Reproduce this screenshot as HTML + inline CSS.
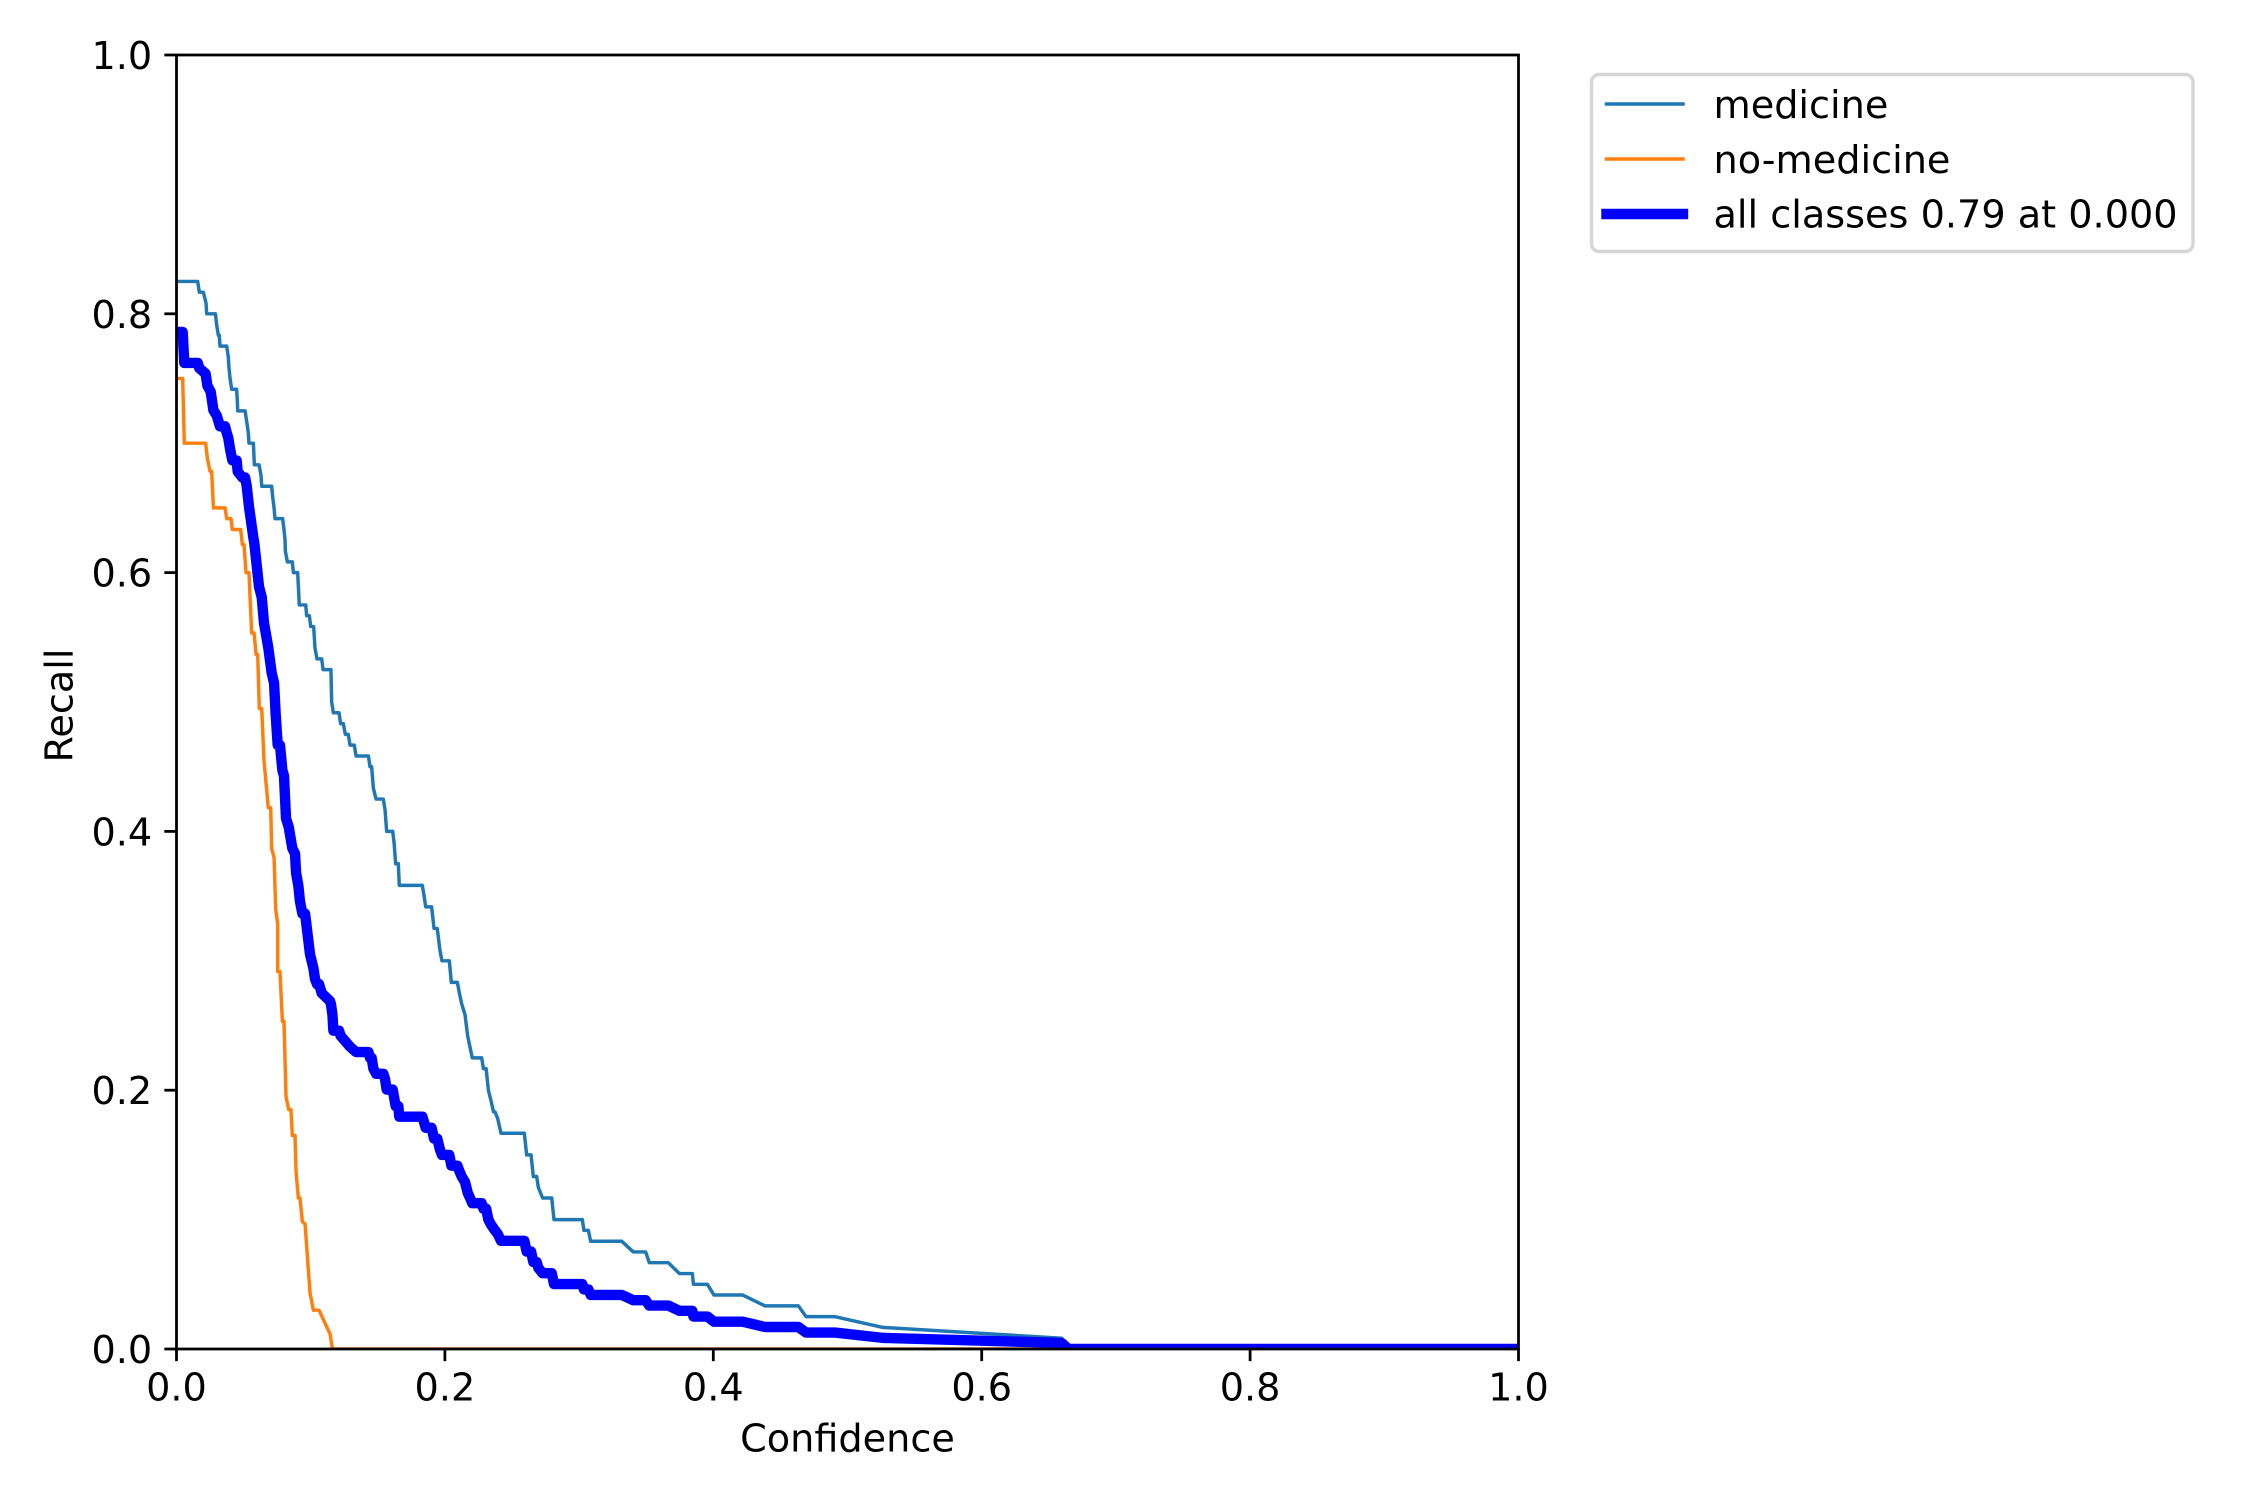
<!DOCTYPE html>
<html>
<head>
<meta charset="utf-8">
<title>Recall-Confidence Curve</title>
<style>
  html, body { margin: 0; padding: 0; background: #fff; }
  svg { display: block; }
  text { font-family: "DejaVu Sans", "Liberation Sans", sans-serif; font-size: 38.2px; fill: #000; }
</style>
</head>
<body>
<svg id="chart" xmlns="http://www.w3.org/2000/svg" width="2250" height="1500" viewBox="0 0 2250 1500">
  <rect x="0" y="0" width="2250" height="1500" fill="#ffffff"/>
  <defs>
    <clipPath id="plot-clip"><rect x="176.5" y="55" width="1342" height="1294"/></clipPath>
  </defs>
  <g id="series-layer" clip-path="url(#plot-clip)"></g>
  <rect x="176.5" y="55" width="1342" height="1294" fill="none" stroke="#000" stroke-width="2.78"/>
  <g id="tick-layer"></g>
  <text x="847.5" y="1451.5" text-anchor="middle">Confidence</text>
  <text transform="translate(72.3,705.5) rotate(-90)" text-anchor="middle">Recall</text>

  <g>
    <rect x="1591.5" y="74.5" width="601.5" height="177" rx="7.6" ry="7.6" fill="#ffffff" stroke="#d6d6d6" stroke-width="3.47"/>
    <g>
      <line x1="1606.5" y1="104" x2="1683" y2="104" stroke="#1f77b4" stroke-width="3.47" stroke-linecap="square"/>
      <text x="1713.5" y="118">medicine</text>
    </g>
    <g>
      <line x1="1606.5" y1="159" x2="1683" y2="159" stroke="#ff7f0e" stroke-width="3.47" stroke-linecap="square"/>
      <text x="1713.5" y="172.8">no-medicine</text>
    </g>
    <g>
      <line x1="1606.5" y1="214" x2="1683" y2="214" stroke="#0000ff" stroke-width="10.4" stroke-linecap="square"/>
      <text x="1713.5" y="227.7">all classes 0.79 at 0.000</text>
    </g>
  </g>
</svg>
<script>
var xTickLabels = ["0.0", "0.2", "0.4", "0.6", "0.8", "1.0"];
var yTickLabels = ["0.0", "0.2", "0.4", "0.6", "0.8", "1.0"];

var medicineConf = [0,.0158,.017,.02,.022,.0225,.029,.0299,.0312,.0319,.0324,.0374,.0386,.0391,.0399,.0411,.0448,.0453,.0456,.0511,.0523,.0535,.054,.0573,.058,.0615,.063,.0635,.0709,.0717,.0727,.0734,.0791,.0801,.0809,.0811,.0826,.0863,.0871,.0903,.0915,.0963,.097,.099,.1,.1022,.1032,.1047,.1082,.1092,.1151,.1156,.1169,.1211,.1223,.1243,.1258,.128,.1293,.1325,.1338,.143,.1442,.1454,.1467,.1487,.1541,.1554,.1566,.1611,.1621,.1633,.1653,.166,.1832,.1845,.1857,.1901,.1919,.1943,.1963,.1978,.2033,.2048,.2093,.2108,.2125,.215,.217,.2187,.2204,.2274,.2287,.2307,.2324,.2344,.2362,.2373,.2393,.2418,.2592,.2609,.2642,.2659,.2684,.2696,.2728,.2796,.2813,.3024,.3036,.3069,.3086,.3317,.3404,.3496,.3523,.3665,.3747,.3844,.3852,.3956,.4005,.4219,.4385,.4634,.4691,.4907,.5263,.6596,.6646,1];
var medicineRecall = [.825,.825,.8167,.8167,.8083,.8,.8,.7917,.7833,.7833,.775,.775,.7667,.7583,.75,.7417,.7417,.7333,.725,.725,.7167,.7083,.7,.7,.6833,.6833,.675,.6667,.6667,.6583,.65,.6417,.6417,.6333,.625,.6167,.6083,.6083,.6,.6,.575,.575,.5667,.5667,.5583,.5583,.5417,.5333,.5333,.525,.525,.5,.4917,.4917,.4833,.4833,.475,.475,.4667,.4667,.4583,.4583,.45,.45,.4333,.425,.425,.4167,.4,.4,.3917,.375,.375,.3583,.3583,.35,.3417,.3417,.325,.325,.3083,.3,.3,.2833,.2833,.275,.2667,.2583,.2417,.2333,.225,.225,.2167,.2167,.2,.1917,.1833,.1833,.1783,.1667,.1667,.15,.15,.1333,.1333,.125,.1167,.1167,.1,.1,.0917,.0917,.0833,.0833,.075,.075,.0667,.0667,.0583,.0583,.05,.05,.0417,.0417,.0333,.0333,.025,.025,.0167,.0083,0,0];

var noMedicineConf = [0,.0046,.0058,.0217,.023,.025,.0262,.0275,.0362,.0374,.0406,.0416,.0478,.0491,.0503,.0518,.054,.056,.0578,.0593,.0605,.0617,.0635,.0652,.0684,.0702,.0709,.0727,.0739,.0754,.0754,.0771,.0789,.0801,.0816,.0836,.0853,.0863,.0883,.0891,.0908,.092,.0938,.0958,.0995,.102,.1062,.1144,.1162,1];
var noMedicineRecall = [.75,.75,.7,.7,.6883,.6783,.6783,.65,.65,.6417,.6417,.6333,.6333,.6217,.6217,.6,.6,.5533,.5533,.5367,.5367,.495,.495,.455,.4183,.4183,.3867,.38,.34,.3283,.2917,.2917,.2533,.2533,.195,.185,.185,.165,.165,.1367,.1167,.1167,.0983,.0967,.0433,.03,.03,.0117,0,0];

var allClassesConf = [0,.0046,.0058,.0158,.017,.0217,.023,.0255,.0275,.03,.0324,.0362,.0374,.0386,.0399,.0416,.0448,.0456,.0491,.0511,.0523,.054,.0573,.058,.0615,.0635,.0652,.0684,.0709,.0727,.0739,.0754,.0771,.0789,.0801,.0816,.0836,.0863,.0883,.0891,.0908,.092,.0938,.0958,.0995,.102,.1032,.1047,.1062,.1082,.1144,.1151,.1162,.1169,.1211,.1223,.1258,.1293,.1338,.143,.1442,.1454,.1467,.1487,.1541,.1554,.1566,.1611,.1633,.1653,.166,.1832,.1845,.1857,.1901,.1919,.1943,.1963,.1978,.2033,.2048,.2093,.2108,.2125,.215,.217,.2187,.2204,.2274,.2287,.2307,.2324,.2344,.2373,.2393,.2418,.2592,.2609,.2642,.2659,.2684,.2696,.2728,.2796,.2813,.3024,.3036,.3069,.3086,.3317,.3404,.3496,.3523,.3665,.3747,.3844,.3852,.3956,.4005,.4219,.4385,.4634,.4691,.4907,.5263,.6596,.6646,1];
var allClassesRecall = [.786,.786,.762,.762,.758,.7537,.7445,.7397,.7255,.7213,.713,.713,.708,.704,.6955,.6867,.6867,.678,.6735,.6735,.667,.651,.6268,.6225,.589,.581,.561,.542,.5226,.5146,.4905,.4667,.4667,.4473,.443,.41,.4035,.387,.3828,.368,.358,.346,.3365,.3365,.305,.2944,.286,.282,.282,.275,.2688,.2665,.2583,.246,.246,.242,.2378,.2336,.2295,.2295,.225,.225,.2167,.2127,.2127,.2086,.2005,.2005,.1877,.1877,.1795,.1795,.1752,.1709,.1709,.1626,.1626,.1542,.15,.15,.1417,.1417,.1375,.1333,.129,.1207,.1168,.1127,.1127,.1085,.1085,.1,.096,.0917,.0891,.0836,.0836,.0753,.0753,.0672,.0672,.0627,.0586,.0586,.0502,.0502,.046,.046,.0418,.0418,.0377,.0377,.0336,.0336,.0295,.0295,.0251,.0251,.0211,.0211,.017,.017,.0127,.0127,.0086,.0047,0,0];

var NS = "http://www.w3.org/2000/svg";
var plotLeft = 176.5, plotWidth = 1342, plotTop = 55, plotHeight = 1294;
function xScale(v) { return plotLeft + v * plotWidth; }
function yScale(v) { return plotTop + plotHeight - v * plotHeight; }

function buildPoints(xs, ys) {
  var out = [];
  for (var i = 0; i < xs.length; i++) {
    out.push(xScale(xs[i]).toFixed(2) + "," + yScale(ys[i]).toFixed(2));
  }
  return out.join(" ");
}

var seriesLayer = document.getElementById("series-layer");

var medicineLine = document.createElementNS(NS, "polyline");


medicineLine.setAttribute("points", buildPoints(medicineConf, medicineRecall));
medicineLine.setAttribute("fill", "none");
medicineLine.setAttribute("stroke", "#1f77b4");
medicineLine.setAttribute("stroke-width", "3.47");
medicineLine.setAttribute("stroke-linejoin", "round");
medicineLine.setAttribute("stroke-linecap", "square");
seriesLayer.appendChild(medicineLine);

var noMedicineLine = document.createElementNS(NS, "polyline");


noMedicineLine.setAttribute("points", buildPoints(noMedicineConf, noMedicineRecall));
noMedicineLine.setAttribute("fill", "none");
noMedicineLine.setAttribute("stroke", "#ff7f0e");
noMedicineLine.setAttribute("stroke-width", "3.47");
noMedicineLine.setAttribute("stroke-linejoin", "round");
noMedicineLine.setAttribute("stroke-linecap", "square");
seriesLayer.appendChild(noMedicineLine);

var allClassesLine = document.createElementNS(NS, "polyline");


allClassesLine.setAttribute("points", buildPoints(allClassesConf, allClassesRecall));
allClassesLine.setAttribute("fill", "none");
allClassesLine.setAttribute("stroke", "#0000ff");
allClassesLine.setAttribute("stroke-width", "10.4");
allClassesLine.setAttribute("stroke-linejoin", "round");
allClassesLine.setAttribute("stroke-linecap", "square");
seriesLayer.appendChild(allClassesLine);

var tickLayer = document.getElementById("tick-layer");

xTickLabels.forEach(function (label) {
  var px = xScale(parseFloat(label));
  var tick = document.createElementNS(NS, "line");
  
  
  tick.setAttribute("x1", px);
  tick.setAttribute("x2", px);
  tick.setAttribute("y1", plotTop + plotHeight);
  tick.setAttribute("y2", plotTop + plotHeight + 12.15);
  tick.setAttribute("stroke", "#000");
  tick.setAttribute("stroke-width", "2.78");
  tickLayer.appendChild(tick);
  var text = document.createElementNS(NS, "text");
  
  
  text.setAttribute("x", px);
  text.setAttribute("y", plotTop + plotHeight + 51.5);
  text.setAttribute("text-anchor", "middle");
  text.textContent = label;
  tickLayer.appendChild(text);
});

yTickLabels.forEach(function (label) {
  var py = yScale(parseFloat(label));
  var tick = document.createElementNS(NS, "line");
  
  
  tick.setAttribute("x1", plotLeft - 12.15);
  tick.setAttribute("x2", plotLeft);
  tick.setAttribute("y1", py);
  tick.setAttribute("y2", py);
  tick.setAttribute("stroke", "#000");
  tick.setAttribute("stroke-width", "2.78");
  tickLayer.appendChild(tick);
  var text = document.createElementNS(NS, "text");
  
  
  text.setAttribute("x", plotLeft - 24.3);
  text.setAttribute("y", py + 14);
  text.setAttribute("text-anchor", "end");
  text.textContent = label;
  tickLayer.appendChild(text);
});
</script>
</body>
</html>
